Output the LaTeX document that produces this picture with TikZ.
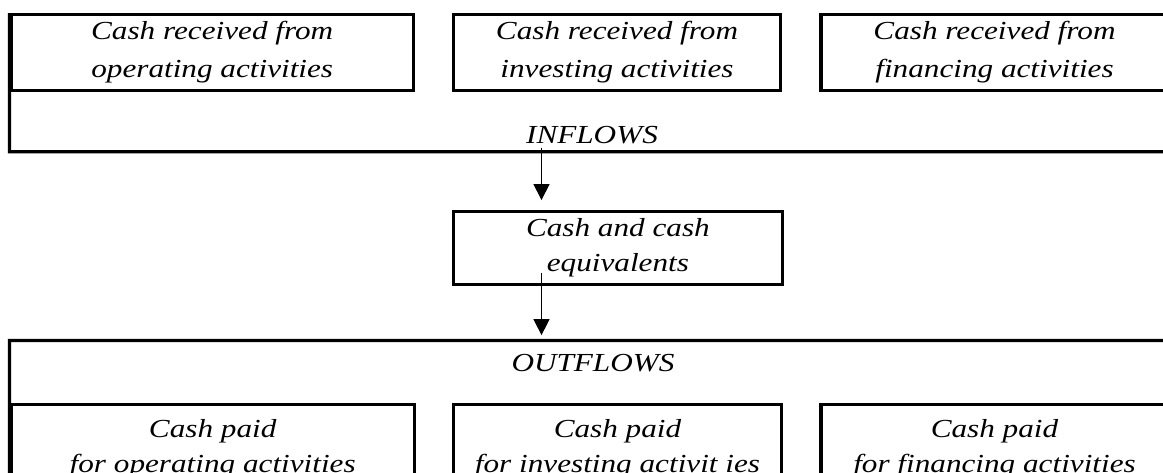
\documentclass[tikz,border=0pt]{standalone}
\usepackage{fontspec}
\setmainfont{Liberation Serif}[FakeStretch=1.2]
\usetikzlibrary{arrows.meta}

\begin{document}
\begin{tikzpicture}[x=0.5pt, y=-0.5pt, >={Triangle[length=8pt, width=8pt]},
  cashbox/.style={draw, line width=1.6pt, inner sep=0pt, align=center,
    font=\itshape\fontsize{13}{19}\selectfont},
  flowtag/.style={inner sep=0pt, anchor=base, font=\itshape\fontsize{13}{16}\selectfont},
  bracket/.style={line width=1.6pt},
  flow/.style={->, line width=0.75pt}]

  \useasboundingbox (0,0) rectangle (1163,472);
  \clip (0,0) rectangle (1163,472);

  % --- 1. sources of cash (top row) ---
  \node[cashbox, minimum width=201.2pt, minimum height=37.8pt] (inOp) at (212.2,52.5)
    {Cash received from\\operating activities};
  \node[cashbox, minimum width=163.7pt, minimum height=37.8pt] (inInv) at (617,52.5)
    {Cash received from\\investing activities};
  \node[cashbox, minimum width=173.5pt, minimum height=37.8pt] (inFin) at (994.5,52.5)
    {Cash received from\\financing activities};

  % --- 2. INFLOWS frame ---
  \coordinate (inBase) at (1168,151.7);
  \draw[bracket] (inOp.north west) |- (inBase) -- (inFin.north east);
  \node[flowtag] (inflows) at (592,143.3) {INFLOWS};

  % --- 3. cash balance ---
  \node[cashbox, minimum width=164.6pt, minimum height=36.5pt,
    font=\itshape\fontsize{13}{17.5}\selectfont] (cashEq) at (617.9,247.75)
    {Cash and cash\\equivalents};

  % --- 4. OUTFLOWS frame ---
  \coordinate (outTop) at (1168,340.5);
  \node[flowtag] (outflows) at (593,371) {OUTFLOWS};

  % --- 5. uses of cash (bottom row) ---
  \node[cashbox, minimum width=201.7pt, minimum height=43.7pt,
    font=\itshape\fontsize{13}{17.5}\selectfont] (outOp) at (212.7,448.4)
    {Cash paid\\for operating activities};
  \node[cashbox, minimum width=164.2pt, minimum height=43.7pt,
    font=\itshape\fontsize{13}{17.5}\selectfont] (outInv) at (617.5,448.4)
    {Cash paid\\for investing activit ies};
  \node[cashbox, minimum width=173.5pt, minimum height=43.7pt,
    font=\itshape\fontsize{13}{17.5}\selectfont] (outFin) at (994.5,448.4)
    {Cash paid\\for financing activities};
  \draw[bracket] (outOp.south west) |- (outTop) -- (outFin.south east);

  % --- 6. arrows ---
  \coordinate (inTail) at (541.5,147.7);
  \coordinate (eqTail) at (541.5,273.3);
  \draw[flow, shorten >=4.8pt] (inTail) -- (inTail |- cashEq.north);
  \draw[flow, shorten >=2.7pt] (eqTail) -- (eqTail |- outTop);

\end{tikzpicture}
\end{document}
